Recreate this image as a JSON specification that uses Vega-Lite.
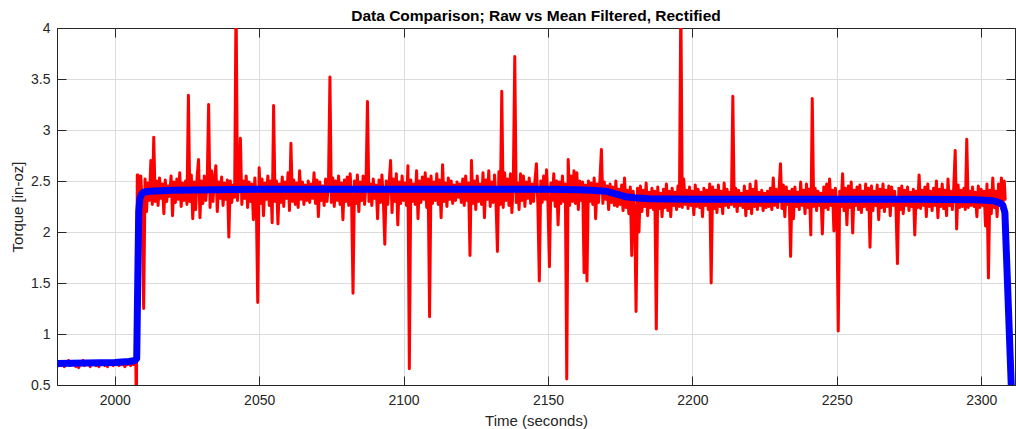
{
"$schema":"https://vega.github.io/schema/vega-lite/v6.json",
"width":958,"height":357,
"autosize":"none",
"padding":{"left":57,"top":28,"right":1,"bottom":44},
"background":"white",
"title":{"text":"Data Comparison; Raw vs Mean Filtered, Rectified","font":"Liberation Sans","fontSize":15.5,"fontWeight":"bold","color":"#000000","anchor":"middle","offset":-3},
"config":{"view":{"stroke":"#262626","strokeWidth":1},
"axis":{"labelFont":"Liberation Sans","labelFontSize":14,"labelColor":"#262626","titleFont":"Liberation Sans","titleFontSize":15,"titleFontWeight":"normal","titleColor":"#262626","domainColor":"#262626","tickColor":"#262626","gridColor":"#dcdcdc","gridWidth":1}},
"datasets":{
"raw":[
{"t":1980,"v":0.72},{"t":1980.5,"v":0.69},{"t":1981,"v":0.73},{"t":1981.5,"v":0.70},{"t":1982,"v":0.71},{"t":1982.5,"v":0.68},{"t":1983,"v":0.72},{"t":1983.5,"v":0.70},{"t":1984,"v":0.74},{"t":1984.5,"v":0.69},{"t":1985,"v":0.71},{"t":1985.5,"v":0.70},{"t":1986,"v":0.73},{"t":1986.5,"v":0.68},{"t":1987,"v":0.72},{"t":1987.5,"v":0.67},{"t":1988,"v":0.71},{"t":1988.5,"v":0.70},{"t":1989,"v":0.74},{"t":1989.5,"v":0.69},{"t":1990,"v":0.72},{"t":1990.5,"v":0.70},{"t":1991,"v":0.71},{"t":1991.5,"v":0.68},{"t":1992,"v":0.73},{"t":1992.5,"v":0.70},{"t":1993,"v":0.72},{"t":1993.5,"v":0.69},{"t":1994,"v":0.71},{"t":1994.5,"v":0.68},{"t":1995,"v":0.72},{"t":1995.5,"v":0.70},{"t":1996,"v":0.73},{"t":1996.5,"v":0.69},{"t":1997,"v":0.71},{"t":1997.5,"v":0.68},{"t":1998,"v":0.72},{"t":1998.5,"v":0.70},{"t":1999,"v":0.71},{"t":1999.5,"v":0.69},{"t":2000,"v":0.73},{"t":2000.5,"v":0.70},{"t":2001,"v":0.71},{"t":2001.5,"v":0.69},{"t":2002,"v":0.72},{"t":2002.5,"v":0.70},{"t":2003,"v":0.71},{"t":2003.5,"v":0.68},{"t":2004,"v":0.72},{"t":2004.5,"v":0.70},{"t":2005,"v":0.73},{"t":2005.5,"v":0.69},{"t":2006,"v":0.72},{"t":2006.5,"v":0.70},{"t":2007,"v":0.72},{"t":2007.3,"v":0.71},{"t":2007.5,"v":0.2},{"t":2007.8,"v":2.56},
{"t":2008,"v":2.56},{"t":2008.5,"v":2.30},{"t":2009,"v":2.55},{"t":2009.5,"v":2.28},{"t":2010,"v":1.25},{"t":2010.5,"v":2.52},{"t":2011,"v":2.20},{"t":2011.5,"v":2.48},{"t":2012,"v":2.31},{"t":2012.5,"v":2.70},{"t":2013,"v":2.27},{"t":2013.5,"v":2.93},{"t":2014,"v":2.30},{"t":2014.5,"v":2.50},{"t":2015,"v":2.26},{"t":2015.5,"v":2.53},{"t":2016,"v":2.33},{"t":2016.5,"v":2.47},{"t":2017,"v":2.18},{"t":2017.5,"v":2.51},{"t":2018,"v":2.30},{"t":2018.5,"v":2.45},{"t":2019,"v":2.35},{"t":2019.5,"v":2.55},{"t":2020,"v":2.16},{"t":2020.5,"v":2.49},{"t":2021,"v":2.29},{"t":2021.5,"v":2.52},{"t":2022,"v":2.32},{"t":2022.5,"v":2.58},{"t":2023,"v":2.25},{"t":2023.5,"v":2.48},{"t":2024,"v":2.31},{"t":2024.5,"v":2.50},{"t":2025,"v":2.27},{"t":2025.5,"v":3.34},{"t":2026,"v":2.30},{"t":2026.5,"v":2.56},{"t":2027,"v":2.13},{"t":2027.5,"v":2.49},{"t":2028,"v":2.22},{"t":2028.5,"v":2.53},{"t":2029,"v":2.71},{"t":2029.5,"v":2.14},{"t":2030,"v":2.50},{"t":2030.5,"v":2.28},{"t":2031,"v":2.55},{"t":2031.5,"v":2.31},{"t":2032,"v":2.47},{"t":2032.5,"v":3.25},{"t":2033,"v":2.24},{"t":2033.5,"v":2.60},{"t":2034,"v":2.30},{"t":2034.5,"v":2.52},{"t":2035,"v":2.65},{"t":2035.5,"v":2.20},{"t":2036,"v":2.49},{"t":2036.5,"v":2.33},{"t":2037,"v":2.54},{"t":2037.5,"v":2.26},{"t":2038,"v":2.48},{"t":2038.5,"v":2.32},{"t":2039,"v":2.51},{"t":2039.5,"v":1.95},{"t":2040,"v":2.50},{"t":2040.5,"v":2.29},{"t":2041,"v":2.46},{"t":2041.5,"v":2.34},{"t":2042,"v":4.30},{"t":2042.5,"v":2.31},{"t":2043,"v":2.52},{"t":2043.5,"v":2.92},{"t":2044,"v":2.27},{"t":2044.5,"v":2.50},{"t":2045,"v":2.33},{"t":2045.5,"v":2.55},{"t":2046,"v":2.24},{"t":2046.5,"v":2.49},{"t":2047,"v":2.30},{"t":2047.5,"v":2.47},{"t":2048,"v":2.12},{"t":2048.5,"v":2.53},{"t":2049,"v":2.31},{"t":2049.5,"v":1.31},{"t":2050,"v":2.63},{"t":2050.5,"v":2.28},{"t":2051,"v":2.52},{"t":2051.5,"v":2.16},{"t":2052,"v":2.48},{"t":2052.5,"v":2.32},{"t":2053,"v":2.55},{"t":2053.5,"v":2.26},{"t":2054,"v":2.50},{"t":2054.5,"v":2.09},{"t":2055,"v":3.24},{"t":2055.5,"v":2.30},{"t":2056,"v":2.50},{"t":2056.5,"v":2.08},{"t":2057,"v":2.47},{"t":2057.5,"v":2.29},{"t":2058,"v":2.54},{"t":2058.5,"v":2.25},{"t":2059,"v":2.49},{"t":2059.5,"v":2.33},{"t":2060,"v":2.58},{"t":2060.5,"v":2.21},{"t":2061,"v":2.87},{"t":2061.5,"v":2.30},{"t":2062,"v":2.51},{"t":2062.5,"v":2.27},{"t":2063,"v":2.48},{"t":2063.5,"v":2.24},{"t":2064,"v":2.60},{"t":2064.5,"v":2.32},{"t":2065,"v":2.49},{"t":2065.5,"v":2.27},{"t":2066,"v":2.46},{"t":2066.5,"v":2.31},{"t":2067,"v":2.50},{"t":2067.5,"v":2.29},{"t":2068,"v":2.47},{"t":2068.5,"v":2.33},{"t":2069,"v":2.58},{"t":2069.5,"v":2.28},{"t":2070,"v":2.51},{"t":2070.5,"v":2.15},{"t":2071,"v":2.49},{"t":2071.5,"v":2.31},{"t":2072,"v":2.45},{"t":2072.5,"v":2.26},{"t":2073,"v":2.52},{"t":2073.5,"v":2.30},{"t":2074,"v":2.48},{"t":2074.5,"v":3.52},{"t":2075,"v":2.29},{"t":2075.5,"v":2.53},{"t":2076,"v":2.25},{"t":2076.5,"v":2.50},{"t":2077,"v":2.31},{"t":2077.5,"v":2.55},{"t":2078,"v":2.27},{"t":2078.5,"v":2.48},{"t":2079,"v":2.12},{"t":2079.5,"v":2.51},{"t":2080,"v":2.30},{"t":2080.5,"v":2.54},{"t":2081,"v":2.26},{"t":2081.5,"v":2.57},{"t":2082,"v":2.32},{"t":2082.5,"v":1.40},{"t":2083,"v":2.50},{"t":2083.5,"v":2.28},{"t":2084,"v":2.56},{"t":2084.5,"v":2.20},{"t":2085,"v":2.49},{"t":2085.5,"v":2.31},{"t":2086,"v":2.55},{"t":2086.5,"v":2.27},{"t":2087,"v":2.48},{"t":2087.5,"v":3.28},{"t":2088,"v":2.30},{"t":2088.5,"v":2.47},{"t":2089,"v":2.26},{"t":2089.5,"v":2.52},{"t":2090,"v":2.33},{"t":2090.5,"v":2.46},{"t":2091,"v":2.13},{"t":2091.5,"v":2.51},{"t":2092,"v":2.29},{"t":2092.5,"v":2.56},{"t":2093,"v":2.31},{"t":2093.5,"v":1.88},{"t":2094,"v":2.50},{"t":2094.5,"v":2.27},{"t":2095,"v":2.48},{"t":2095.5,"v":2.70},{"t":2096,"v":2.19},{"t":2096.5,"v":2.52},{"t":2097,"v":2.30},{"t":2097.5,"v":2.57},{"t":2098,"v":2.07},{"t":2098.5,"v":2.49},{"t":2099,"v":2.28},{"t":2099.5,"v":2.55},{"t":2100,"v":2.31},{"t":2100.5,"v":2.48},{"t":2101,"v":2.26},{"t":2101.5,"v":2.65},{"t":2102,"v":0.66},{"t":2102.5,"v":2.51},{"t":2103,"v":2.30},{"t":2103.5,"v":2.47},{"t":2104,"v":2.27},{"t":2104.5,"v":2.60},{"t":2105,"v":2.13},{"t":2105.5,"v":2.50},{"t":2106,"v":2.29},{"t":2106.5,"v":2.54},{"t":2107,"v":2.32},{"t":2107.5,"v":2.58},{"t":2108,"v":2.24},{"t":2108.5,"v":2.52},{"t":2109,"v":1.17},{"t":2109.5,"v":2.55},{"t":2110,"v":2.28},{"t":2110.5,"v":2.49},{"t":2111,"v":2.31},{"t":2111.5,"v":2.57},{"t":2112,"v":2.27},{"t":2112.5,"v":2.51},{"t":2113,"v":2.14},{"t":2113.5,"v":2.66},{"t":2114,"v":2.30},{"t":2114.5,"v":2.48},{"t":2115,"v":2.25},{"t":2115.5,"v":2.53},{"t":2116,"v":2.32},{"t":2116.5,"v":2.50},{"t":2117,"v":2.28},{"t":2117.5,"v":2.46},{"t":2118,"v":2.31},{"t":2118.5,"v":2.49},{"t":2119,"v":2.34},{"t":2119.5,"v":2.47},{"t":2120,"v":2.29},{"t":2120.5,"v":2.52},{"t":2121,"v":2.26},{"t":2121.5,"v":2.55},{"t":2122,"v":2.31},{"t":2122.5,"v":2.48},{"t":2123,"v":1.77},{"t":2123.5,"v":2.70},{"t":2124,"v":2.28},{"t":2124.5,"v":2.50},{"t":2125,"v":2.22},{"t":2125.5,"v":2.55},{"t":2126,"v":2.30},{"t":2126.5,"v":2.47},{"t":2127,"v":2.27},{"t":2127.5,"v":2.58},{"t":2128,"v":2.14},{"t":2128.5,"v":2.51},{"t":2129,"v":2.32},{"t":2129.5,"v":2.60},{"t":2130,"v":2.25},{"t":2130.5,"v":2.49},{"t":2131,"v":2.29},{"t":2131.5,"v":2.56},{"t":2132,"v":2.30},{"t":2132.5,"v":1.81},{"t":2133,"v":2.59},{"t":2133.5,"v":2.27},{"t":2134,"v":3.38},{"t":2134.5,"v":2.24},{"t":2135,"v":2.58},{"t":2135.5,"v":2.31},{"t":2136,"v":2.52},{"t":2136.5,"v":2.26},{"t":2137,"v":2.57},{"t":2137.5,"v":2.19},{"t":2138,"v":2.50},{"t":2138.5,"v":3.72},{"t":2139,"v":2.29},{"t":2139.5,"v":2.48},{"t":2140,"v":2.22},{"t":2140.5,"v":2.57},{"t":2141,"v":2.31},{"t":2141.5,"v":2.55},{"t":2142,"v":2.25},{"t":2142.5,"v":2.49},{"t":2143,"v":2.33},{"t":2143.5,"v":2.53},{"t":2144,"v":2.28},{"t":2144.5,"v":2.47},{"t":2145,"v":2.30},{"t":2145.5,"v":2.51},{"t":2146,"v":2.67},{"t":2146.5,"v":2.26},{"t":2147,"v":1.52},{"t":2147.5,"v":2.50},{"t":2148,"v":2.29},{"t":2148.5,"v":2.55},{"t":2149,"v":2.32},{"t":2149.5,"v":2.61},{"t":2150,"v":2.27},{"t":2150.5,"v":1.66},{"t":2151,"v":2.48},{"t":2151.5,"v":2.31},{"t":2152,"v":2.57},{"t":2152.5,"v":2.25},{"t":2153,"v":2.50},{"t":2153.5,"v":2.07},{"t":2154,"v":2.49},{"t":2154.5,"v":2.28},{"t":2155,"v":2.55},{"t":2155.5,"v":2.30},{"t":2156,"v":2.47},{"t":2156.5,"v":0.56},{"t":2157,"v":2.71},{"t":2157.5,"v":2.26},{"t":2158,"v":2.55},{"t":2158.5,"v":2.30},{"t":2159,"v":2.60},{"t":2159.5,"v":2.28},{"t":2160,"v":2.58},{"t":2160.5,"v":2.22},{"t":2161,"v":2.50},{"t":2161.5,"v":2.31},{"t":2162,"v":2.49},{"t":2162.5,"v":1.60},{"t":2163,"v":2.46},{"t":2163.5,"v":1.52},{"t":2164,"v":2.50},{"t":2164.5,"v":2.30},{"t":2165,"v":2.48},{"t":2165.5,"v":2.27},{"t":2166,"v":2.53},{"t":2166.5,"v":2.13},{"t":2167,"v":2.47},{"t":2167.5,"v":2.29},{"t":2168,"v":2.52},{"t":2168.5,"v":2.81},{"t":2169,"v":2.28},{"t":2169.5,"v":2.49},{"t":2170,"v":2.32},{"t":2170.5,"v":2.45},{"t":2171,"v":2.22},{"t":2171.5,"v":2.47},{"t":2172,"v":2.29},{"t":2172.5,"v":2.44},{"t":2173,"v":2.26},{"t":2173.5,"v":2.50},{"t":2174,"v":2.25},{"t":2174.5,"v":2.42},{"t":2175,"v":2.27},{"t":2175.5,"v":2.46},{"t":2176,"v":2.21},{"t":2176.5,"v":2.53},{"t":2177,"v":2.24},{"t":2177.5,"v":2.41},{"t":2178,"v":2.18},{"t":2178.5,"v":2.44},{"t":2179,"v":1.77},{"t":2179.5,"v":2.40},{"t":2180,"v":2.22},{"t":2180.5,"v":1.22},{"t":2181,"v":2.43},{"t":2181.5,"v":2.00},{"t":2182,"v":2.45},{"t":2182.5,"v":2.20},{"t":2183,"v":2.41},{"t":2183.5,"v":2.25},{"t":2184,"v":2.48},{"t":2184.5,"v":2.16},{"t":2185,"v":2.39},{"t":2185.5,"v":2.24},{"t":2186,"v":2.43},{"t":2186.5,"v":2.22},{"t":2187,"v":2.40},{"t":2187.5,"v":1.05},{"t":2188,"v":2.44},{"t":2188.5,"v":2.23},{"t":2189,"v":2.38},{"t":2189.5,"v":2.15},{"t":2190,"v":2.42},{"t":2190.5,"v":2.24},{"t":2191,"v":2.47},{"t":2191.5,"v":2.21},{"t":2192,"v":2.40},{"t":2192.5,"v":2.15},{"t":2193,"v":2.43},{"t":2193.5,"v":2.26},{"t":2194,"v":2.39},{"t":2194.5,"v":2.22},{"t":2195,"v":2.45},{"t":2195.5,"v":2.25},{"t":2196,"v":4.30},{"t":2196.5,"v":2.24},{"t":2197,"v":2.52},{"t":2197.5,"v":2.27},{"t":2198,"v":2.41},{"t":2198.5,"v":2.23},{"t":2199,"v":2.44},{"t":2199.5,"v":2.26},{"t":2200,"v":2.40},{"t":2200.5,"v":2.17},{"t":2201,"v":2.46},{"t":2201.5,"v":2.25},{"t":2202,"v":2.42},{"t":2202.5,"v":2.24},{"t":2203,"v":2.39},{"t":2203.5,"v":2.15},{"t":2204,"v":2.43},{"t":2204.5,"v":2.26},{"t":2205,"v":2.41},{"t":2205.5,"v":2.22},{"t":2206,"v":2.47},{"t":2206.5,"v":1.50},{"t":2207,"v":2.44},{"t":2207.5,"v":2.23},{"t":2208,"v":2.41},{"t":2208.5,"v":2.19},{"t":2209,"v":2.46},{"t":2209.5,"v":2.25},{"t":2210,"v":2.40},{"t":2210.5,"v":2.18},{"t":2211,"v":2.48},{"t":2211.5,"v":2.26},{"t":2212,"v":2.42},{"t":2212.5,"v":2.24},{"t":2213,"v":2.39},{"t":2213.5,"v":2.27},{"t":2214,"v":3.33},{"t":2214.5,"v":2.25},{"t":2215,"v":2.43},{"t":2215.5,"v":2.20},{"t":2216,"v":2.41},{"t":2216.5,"v":2.26},{"t":2217,"v":2.38},{"t":2217.5,"v":2.24},{"t":2218,"v":2.45},{"t":2218.5,"v":2.16},{"t":2219,"v":2.40},{"t":2219.5,"v":2.23},{"t":2220,"v":2.47},{"t":2220.5,"v":2.18},{"t":2221,"v":2.42},{"t":2221.5,"v":2.25},{"t":2222,"v":2.50},{"t":2222.5,"v":2.22},{"t":2223,"v":2.39},{"t":2223.5,"v":2.26},{"t":2224,"v":2.41},{"t":2224.5,"v":2.21},{"t":2225,"v":2.38},{"t":2225.5,"v":2.24},{"t":2226,"v":2.40},{"t":2226.5,"v":2.25},{"t":2227,"v":2.43},{"t":2227.5,"v":2.22},{"t":2228,"v":2.53},{"t":2228.5,"v":2.26},{"t":2229,"v":2.42},{"t":2229.5,"v":2.24},{"t":2230,"v":2.41},{"t":2230.5,"v":2.67},{"t":2231,"v":2.23},{"t":2231.5,"v":2.46},{"t":2232,"v":2.15},{"t":2232.5,"v":2.44},{"t":2233,"v":2.27},{"t":2233.5,"v":2.40},{"t":2234,"v":1.76},{"t":2234.5,"v":2.42},{"t":2235,"v":2.13},{"t":2235.5,"v":2.44},{"t":2236,"v":2.25},{"t":2236.5,"v":2.39},{"t":2237,"v":2.22},{"t":2237.5,"v":2.49},{"t":2238,"v":2.26},{"t":2238.5,"v":2.41},{"t":2239,"v":2.18},{"t":2239.5,"v":2.47},{"t":2240,"v":2.24},{"t":2240.5,"v":2.42},{"t":2241,"v":1.97},{"t":2241.5,"v":3.31},{"t":2242,"v":2.25},{"t":2242.5,"v":2.43},{"t":2243,"v":2.21},{"t":2243.5,"v":2.40},{"t":2244,"v":2.26},{"t":2244.5,"v":2.38},{"t":2245,"v":1.98},{"t":2245.5,"v":2.44},{"t":2246,"v":2.24},{"t":2246.5,"v":2.47},{"t":2247,"v":2.22},{"t":2247.5,"v":2.52},{"t":2248,"v":2.26},{"t":2248.5,"v":2.41},{"t":2249,"v":2.01},{"t":2249.5,"v":2.43},{"t":2250,"v":2.23},{"t":2250.5,"v":1.03},{"t":2251,"v":2.40},{"t":2251.5,"v":2.25},{"t":2252,"v":2.57},{"t":2252.5,"v":2.21},{"t":2253,"v":2.43},{"t":2253.5,"v":2.07},{"t":2254,"v":2.45},{"t":2254.5,"v":2.24},{"t":2255,"v":2.49},{"t":2255.5,"v":1.99},{"t":2256,"v":2.41},{"t":2256.5,"v":2.26},{"t":2257,"v":2.44},{"t":2257.5,"v":2.22},{"t":2258,"v":2.46},{"t":2258.5,"v":2.19},{"t":2259,"v":2.40},{"t":2259.5,"v":2.25},{"t":2260,"v":2.47},{"t":2260.5,"v":2.22},{"t":2261,"v":2.43},{"t":2261.5,"v":1.85},{"t":2262,"v":2.45},{"t":2262.5,"v":2.21},{"t":2263,"v":2.40},{"t":2263.5,"v":2.26},{"t":2264,"v":2.46},{"t":2264.5,"v":2.12},{"t":2265,"v":2.42},{"t":2265.5,"v":2.24},{"t":2266,"v":2.47},{"t":2266.5,"v":2.20},{"t":2267,"v":2.41},{"t":2267.5,"v":2.25},{"t":2268,"v":2.45},{"t":2268.5,"v":2.16},{"t":2269,"v":2.44},{"t":2269.5,"v":2.26},{"t":2270,"v":2.40},{"t":2270.5,"v":2.23},{"t":2271,"v":1.69},{"t":2271.5,"v":2.43},{"t":2272,"v":2.22},{"t":2272.5,"v":2.45},{"t":2273,"v":2.18},{"t":2273.5,"v":2.41},{"t":2274,"v":2.26},{"t":2274.5,"v":2.44},{"t":2275,"v":2.21},{"t":2275.5,"v":2.39},{"t":2276,"v":2.25},{"t":2276.5,"v":2.42},{"t":2277,"v":1.97},{"t":2277.5,"v":2.40},{"t":2278,"v":2.24},{"t":2278.5,"v":2.56},{"t":2279,"v":2.23},{"t":2279.5,"v":2.41},{"t":2280,"v":2.26},{"t":2280.5,"v":2.44},{"t":2281,"v":2.15},{"t":2281.5,"v":2.47},{"t":2282,"v":2.25},{"t":2282.5,"v":2.40},{"t":2283,"v":2.21},{"t":2283.5,"v":2.43},{"t":2284,"v":2.26},{"t":2284.5,"v":2.50},{"t":2285,"v":2.14},{"t":2285.5,"v":2.42},{"t":2286,"v":2.25},{"t":2286.5,"v":2.47},{"t":2287,"v":2.23},{"t":2287.5,"v":2.41},{"t":2288,"v":2.16},{"t":2288.5,"v":2.52},{"t":2289,"v":2.26},{"t":2289.5,"v":2.40},{"t":2290,"v":2.22},{"t":2290.5,"v":2.44},{"t":2291,"v":2.80},{"t":2291.5,"v":2.03},{"t":2292,"v":2.46},{"t":2292.5,"v":2.24},{"t":2293,"v":2.41},{"t":2293.5,"v":2.25},{"t":2294,"v":2.43},{"t":2294.5,"v":2.22},{"t":2295,"v":2.91},{"t":2295.5,"v":2.24},{"t":2296,"v":2.40},{"t":2296.5,"v":2.26},{"t":2297,"v":2.44},{"t":2297.5,"v":2.25},{"t":2298,"v":2.39},{"t":2298.5,"v":2.15},{"t":2299,"v":2.45},{"t":2299.5,"v":2.24},{"t":2300,"v":2.42},{"t":2300.5,"v":2.26},{"t":2301,"v":2.40},{"t":2301.5,"v":2.06},{"t":2302,"v":2.47},{"t":2302.5,"v":1.55},{"t":2303,"v":2.41},{"t":2303.5,"v":2.18},{"t":2304,"v":2.53},{"t":2304.5,"v":2.24},{"t":2305,"v":2.40},{"t":2305.5,"v":2.15},{"t":2306,"v":2.47},{"t":2306.5,"v":2.26},{"t":2307,"v":2.53},{"t":2307.5,"v":2.25},{"t":2308,"v":2.50},{"t":2308.3,"v":2.32}
],
"mean":[
{"t":1980,"v":0.71},{"t":1990,"v":0.715},{"t":2000,"v":0.72},{"t":2005,"v":0.73},{"t":2007,"v":0.74},{"t":2007.6,"v":0.76},{"t":2008,"v":1.6},{"t":2008.3,"v":2.2},{"t":2008.7,"v":2.33},{"t":2009.3,"v":2.37},{"t":2010,"v":2.39},{"t":2012,"v":2.40},{"t":2020,"v":2.41},{"t":2050,"v":2.42},{"t":2100,"v":2.42},{"t":2150,"v":2.42},{"t":2160,"v":2.415},{"t":2165,"v":2.41},{"t":2170,"v":2.40},{"t":2174,"v":2.37},{"t":2177,"v":2.345},{"t":2180,"v":2.335},{"t":2185,"v":2.325},{"t":2200,"v":2.32},{"t":2250,"v":2.32},{"t":2280,"v":2.32},{"t":2298,"v":2.315},{"t":2303,"v":2.31},{"t":2305,"v":2.30},{"t":2306.5,"v":2.285},{"t":2307.5,"v":2.26},{"t":2308.2,"v":2.19},{"t":2310.4,"v":0.5},{"t":2311.5,"v":-0.4}
]},
"layer":[
{"data":{"name":"raw"},
"mark":{"type":"line","color":"#ff0000","strokeWidth":3,"clip":true,"strokeJoin":"round","strokeCap":"round"},
"encoding":{
"x":{"field":"t","type":"quantitative","scale":{"domain":[1980,2311.7],"nice":false,"zero":false},
"axis":{"title":"Time (seconds)","values":[2000,2050,2100,2150,2200,2250,2300],"format":"d","grid":true,"tickSize":-9,"labelPadding":17,"titlePadding":6,"domain":true}},
"y":{"field":"v","type":"quantitative","scale":{"domain":[0.5,4],"nice":false,"zero":false},
"axis":{"title":"Torque [in-oz]","values":[0.5,1,1.5,2,2.5,3,3.5,4],"format":"~g","grid":true,"tickSize":-9,"labelPadding":16,"titlePadding":5}}}},
{"data":{"name":"mean"},
"mark":{"type":"line","color":"#0000ff","strokeWidth":7,"clip":true,"strokeJoin":"round","strokeCap":"round"},
"encoding":{
"x":{"field":"t","type":"quantitative","axis":{"title":null,"values":[2000,2050,2100,2150,2200,2250,2300],"labels":false,"grid":false,"tickSize":-9,"orient":"top"}},
"y":{"field":"v","type":"quantitative","axis":{"title":null,"values":[0.5,1,1.5,2,2.5,3,3.5,4],"labels":false,"grid":false,"tickSize":-9,"orient":"right"}}}}
],
"resolve":{"axis":{"x":"independent","y":"independent"}}
}
